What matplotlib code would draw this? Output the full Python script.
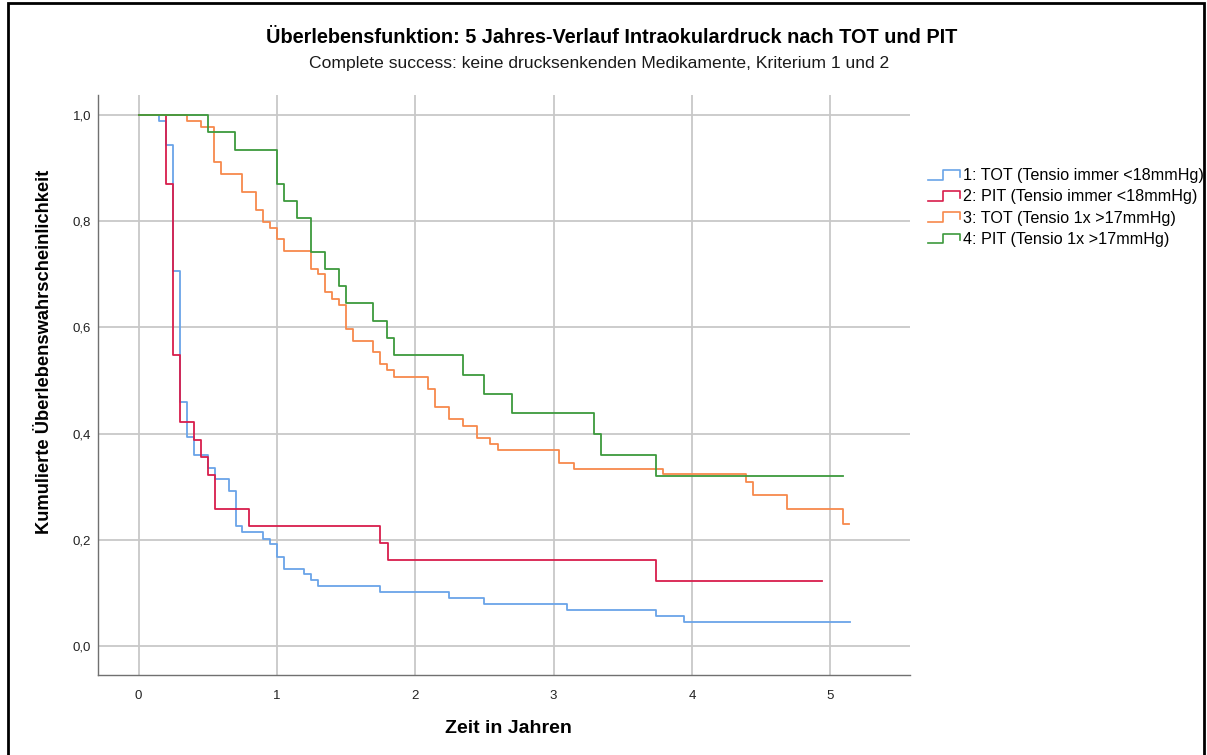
"""
Kaplan-Meier Überlebensfunktion: TOT vs. PIT, 5 Jahres-Verlauf
"""
import matplotlib
matplotlib.use('Agg')
import matplotlib.pyplot as plt
from matplotlib.legend_handler import HandlerBase
from matplotlib.lines import Line2D
from matplotlib.patches import Rectangle

plt.rcParams['font.family'] = ['Liberation Sans', 'DejaVu Sans']

# Zeitpunkte (Jahre) und kumulierte Überlebenswahrscheinlichkeit je Gruppe
tot_low_t = [0, 0.148, 0.198, 0.248, 0.298, 0.349, 0.40, 0.501, 0.552, 0.651, 0.701, 0.747,
             0.899, 0.949, 1.0, 1.05, 1.195, 1.246, 1.297, 1.747, 2.244, 2.494, 3.094, 3.74,
             3.94, 5.14]
tot_low_s = [1.0, 0.989, 0.944, 0.707, 0.46, 0.393, 0.36, 0.336, 0.315, 0.292, 0.225, 0.214,
             0.201, 0.191, 0.168, 0.145, 0.135, 0.124, 0.113, 0.101, 0.090, 0.079, 0.067, 0.056,
             0.045, 0.045]

pit_low_t = [0, 0.198, 0.248, 0.298, 0.40, 0.45, 0.501, 0.552, 0.798, 1.745, 1.80, 3.74, 4.94]
pit_low_s = [1.0, 0.870, 0.548, 0.421, 0.388, 0.355, 0.322, 0.257, 0.226, 0.193, 0.162, 0.122, 0.122]

tot_high_t = [0, 0.349, 0.45, 0.547, 0.597, 0.747, 0.848, 0.899, 0.949, 1.0, 1.05, 1.243, 1.296,
              1.345, 1.395, 1.446, 1.497, 1.547, 1.697, 1.745, 1.795, 1.846, 2.094, 2.145, 2.246,
              2.347, 2.444, 2.542, 2.596, 3.041, 3.145, 3.793, 4.391, 4.44, 4.69, 5.09, 5.136]
tot_high_s = [1.0, 0.989, 0.978, 0.912, 0.890, 0.856, 0.822, 0.799, 0.788, 0.766, 0.744, 0.710,
              0.700, 0.666, 0.654, 0.643, 0.598, 0.575, 0.553, 0.531, 0.519, 0.507, 0.484, 0.450,
              0.428, 0.415, 0.392, 0.380, 0.369, 0.345, 0.334, 0.323, 0.309, 0.284, 0.257, 0.230,
              0.230]

pit_high_t = [0, 0.499, 0.699, 1.0, 1.048, 1.148, 1.248, 1.346, 1.446, 1.497, 1.697, 1.796, 1.846,
              2.345, 2.495, 2.697, 3.294, 3.343, 3.74, 5.09]
pit_high_s = [1.0, 0.968, 0.935, 0.870, 0.839, 0.806, 0.742, 0.710, 0.678, 0.646, 0.613, 0.581,
              0.548, 0.511, 0.475, 0.438, 0.399, 0.359, 0.320, 0.320]

labels = ['1: TOT (Tensio immer <18mmHg)', '2: PIT (Tensio immer <18mmHg)',
          '3: TOT (Tensio 1x >17mmHg)', '4: PIT (Tensio 1x >17mmHg)']
colors = ['#6aa4e8', '#d81e4c', '#f7894c', '#3d9a3d']
x_ticks = [0, 1, 2, 3, 4, 5]
y_ticks = [0.0, 0.2, 0.4, 0.6, 0.8, 1.0]


class StepHandler(HandlerBase):
    # kleines Treppen-Symbol wie in der SPSS-Legende
    def create_artists(self, legend, orig_handle, xdescent, ydescent, width, height, fontsize, trans):
        x0 = -xdescent
        y0 = -ydescent
        xs = [x0, x0 + 0.45 * width, x0 + 0.45 * width, x0 + width, x0 + width]
        ys = [y0 + 0.05 * height, y0 + 0.05 * height, y0 + 0.9 * height, y0 + 0.9 * height, y0 + 0.3 * height]
        line = Line2D(xs, ys, color=orig_handle.get_color(), linewidth=1.2, transform=trans)
        return [line]


fig = plt.figure(figsize=(12.07, 7.55), dpi=100)
ax = fig.add_axes([0.0814, 0.106, 0.6726, 0.768])

series = [(tot_low_t, tot_low_s), (pit_low_t, pit_low_s),
          (tot_high_t, tot_high_s), (pit_high_t, pit_high_s)]
handles = []
for (t, s), c, lab in zip(series, colors, labels):
    h, = ax.plot(t, s, drawstyle='steps-post', color=c, linewidth=1.3, label=lab)
    handles.append(h)

ax.set_xlim(-0.292, 5.577)
ax.set_ylim(-0.055, 1.038)
ax.set_xticks(x_ticks)
ax.set_xticklabels([str(v) for v in x_ticks])
ax.set_yticks(y_ticks)
ax.set_yticklabels([f'{v:.1f}'.replace('.', ',') for v in y_ticks])
ax.tick_params(axis='both', length=0, labelsize=9.5, colors='#222222')
ax.tick_params(axis='x', pad=11)
ax.tick_params(axis='y', pad=5)
ax.grid(True, color='#c8c8c8', linewidth=1.3)
ax.set_axisbelow(True)
for side in ['top', 'right']:
    ax.spines[side].set_visible(False)
for side in ['left', 'bottom']:
    ax.spines[side].set_color('#707070')
    ax.spines[side].set_linewidth(1.0)

fig.text(0.0365, 0.534, 'Kumulierte Überlebenswahrscheinlichkeit', rotation=90,
         ha='center', va='center', fontsize=13.2, fontweight='bold')
fig.text(0.421, 0.035, 'Zeit in Jahren', ha='center', va='center', fontsize=14, fontweight='bold')
fig.text(0.5066, 0.950, 'Überlebensfunktion: 5 Jahres-Verlauf Intraokulardruck nach TOT und PIT',
         ha='center', va='center', fontsize=14.3, fontweight='bold')
fig.text(0.4967, 0.9155, 'Complete success: keine drucksenkenden Medikamente, Kriterium 1 und 2',
         ha='center', va='center', fontsize=12.6, color='#1a1a1a')

fig.legend(handles=handles, labels=labels, handler_map={Line2D: StepHandler()},
           loc='upper left', bbox_to_anchor=(0.769, 0.777), frameon=False,
           fontsize=11.6, handlelength=2.0, handletextpad=0.15, labelspacing=0.38,
           borderaxespad=0, borderpad=0)

# schwarzer Rahmen um die ganze Grafik
fig.patches.append(Rectangle((8 / 1207, -0.01), 1196 / 1207, 0.01 + 1 - 3 / 755,
                             transform=fig.transFigure, fill=False, edgecolor='black',
                             linewidth=2.0))

fig.savefig('out.png', dpi=100)
